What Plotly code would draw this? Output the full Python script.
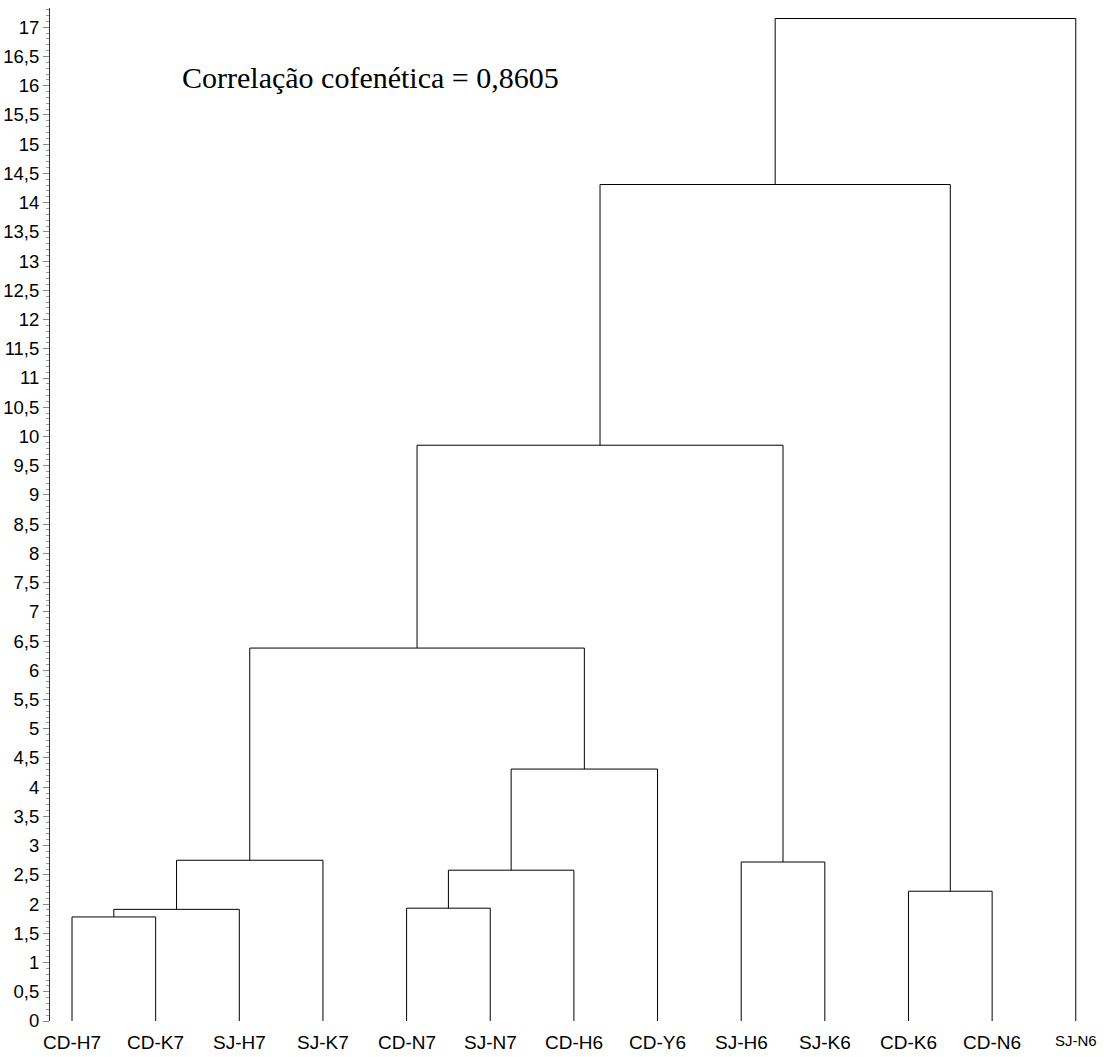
import plotly.graph_objects as go

leaves = ["CD-H7", "CD-K7", "SJ-H7", "SJ-K7", "CD-N7", "SJ-N7", "CD-H6",
          "CD-Y6", "SJ-H6", "SJ-K6", "CD-K6", "CD-N6", "SJ-N6"]
# merges: (left child, right child, height); nodes >= 13 are clusters
merge_left = [0, 13, 14, 4, 16, 17, 15, 8, 19, 10, 21, 23]
merge_right = [1, 2, 3, 5, 6, 7, 18, 9, 20, 11, 22, 12]
merge_height = [1.78, 1.91, 2.75, 1.93, 2.58, 4.31, 6.38, 2.72, 9.85, 2.22, 14.31, 17.15]

ytick_vals = [i * 0.5 for i in range(35)]
ytick_text = [("%g" % v).replace(".", ",") for v in ytick_vals]

n = len(leaves)
node_x = {i: float(i) for i in range(n)}
node_h = {i: 0.0 for i in range(n)}

xs, ys = [], []
for k, (a, b, h) in enumerate(zip(merge_left, merge_right, merge_height)):
    xa, xb = node_x[a], node_x[b]
    xs += [xa, xa, xb, xb, None]
    ys += [node_h[a], h, h, node_h[b], None]
    node_x[n + k] = (xa + xb) / 2
    node_h[n + k] = h

fig = go.Figure()
fig.add_trace(go.Scatter(x=xs, y=ys, mode="lines",
                         line=dict(color="black", width=1), hoverinfo="skip",
                         showlegend=False))

annotations = []
for i, name in enumerate(leaves):
    annotations.append(dict(x=i, y=-0.009, xref="x", yref="paper", text=name,
                            showarrow=False, yanchor="top",
                            font=dict(family="Liberation Sans, Arial", size=15 if name == "SJ-N6" else 19,
                                      color="black")))
annotations.append(dict(x=0.125, y=0.931, xref="paper", yref="paper",
                        text="Correlação cofenética = 0,8605", showarrow=False,
                        xanchor="left", yanchor="middle",
                        font=dict(family="Liberation Serif, Times New Roman", size=30, color="black")))

fig.update_layout(
    width=1109, height=1057,
    margin=dict(l=50, r=19, t=8, b=36),
    plot_bgcolor="white", paper_bgcolor="white",
    annotations=annotations,
    xaxis=dict(range=[-0.263, 12.17], showgrid=False, zeroline=False,
               showticklabels=False, ticks="", showline=False, automargin=False),
    yaxis=dict(range=[0, 17.33], showgrid=False, zeroline=False, automargin=False,
               tickvals=ytick_vals, ticktext=ytick_text,
               ticks="outside", ticklen=6, tickcolor="#888", tickwidth=1,
               showline=True, linecolor="#333", linewidth=1,
               tickfont=dict(family="Liberation Sans, Arial", size=18.5, color="black"),
               minor=dict(dtick=0.1, ticks="outside", ticklen=3, tickcolor="#999", tickwidth=1)),
)

fig.write_html("out.html")
